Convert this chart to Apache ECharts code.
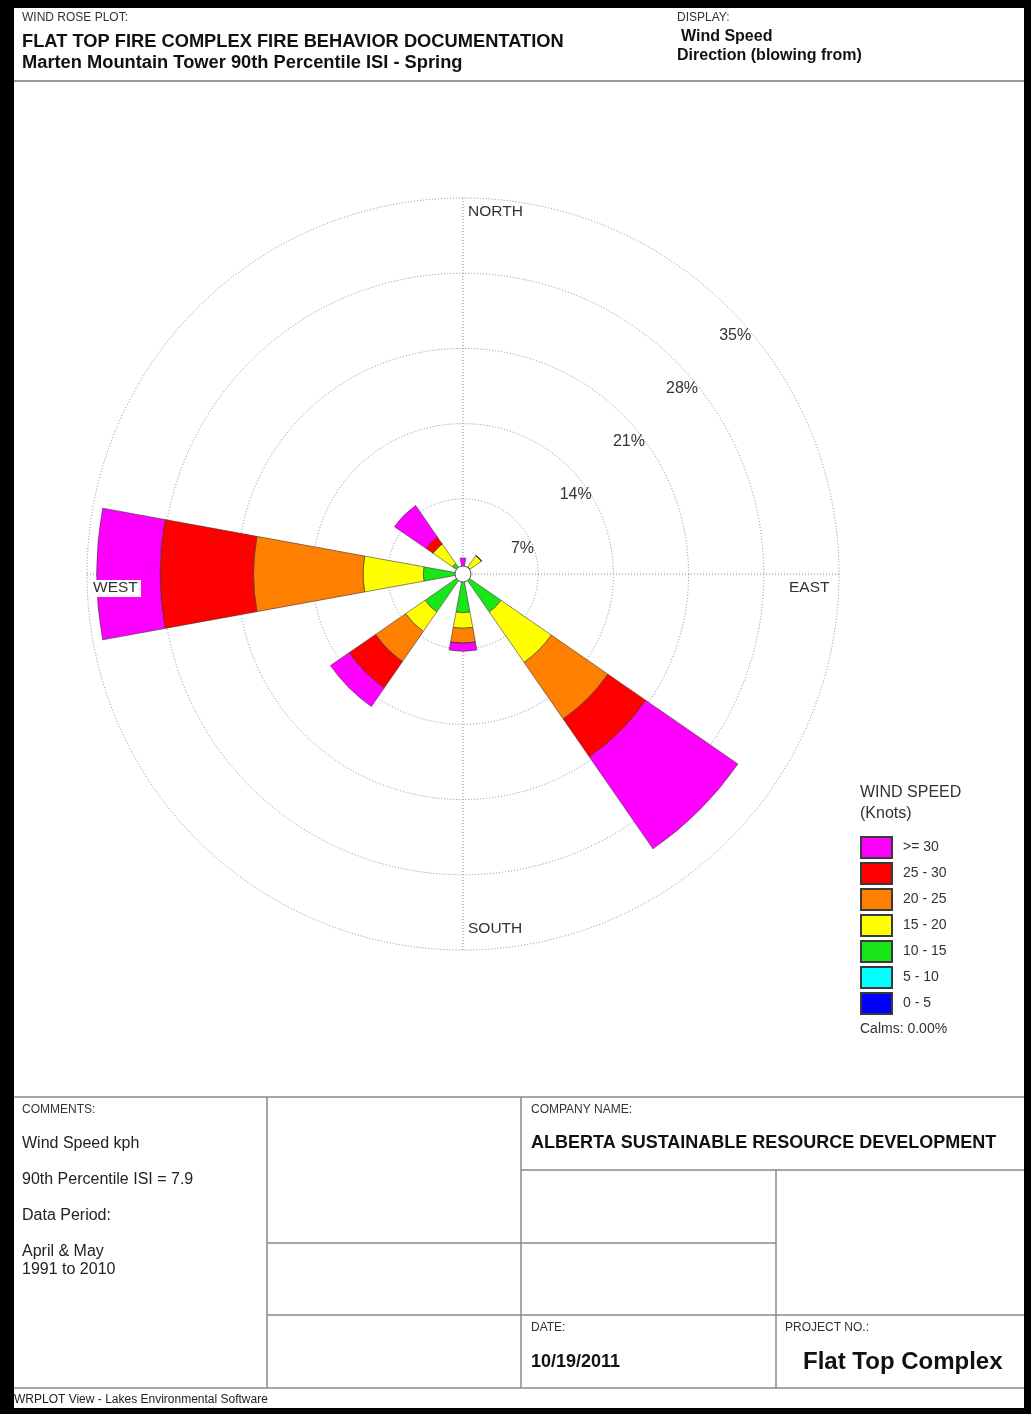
<!DOCTYPE html>
<html>
<head>
<meta charset="utf-8">
<title>Wind Rose - Marten Mountain Tower</title>
<script src="https://cdn.jsdelivr.net/npm/echarts@6/dist/echarts.min.js"></script>
<style>
  html, body { margin: 0; padding: 0; background: #fff; }
  #wrap { position: relative; width: 1031px; height: 1414px; }
  #chart { position: absolute; left: 0; top: 0; width: 1031px; height: 1414px; }
  #frame {
    position: absolute; left: 0; top: 0; width: 1031px; height: 1414px;
    box-sizing: border-box; border-style: solid; border-color: #000;
    border-width: 8px 7px 6px 14px; pointer-events: none;
  }
</style>
</head>
<body>
<div id="wrap">
  <div id="chart"></div>
  <div id="frame"></div>
</div>
<script>
// 16 compass sectors, clockwise from north
const directions = ['N', 'NNE', 'NE', 'ENE', 'E', 'ESE', 'SE', 'SSE',
                    'S', 'SSW', 'SW', 'WSW', 'W', 'WNW', 'NW', 'NNW'];

// wind speed classes (knots), innermost first
const speedClasses = ['0 - 5', '5 - 10', '10 - 15', '15 - 20', '20 - 25', '25 - 30', '>= 30'];
const classColors  = ['#0000ff', '#00ffff', '#19e619', '#ffff00', '#ff8000', '#ff0000', '#ff00ff'];

// frequency (%) per direction for each speed class
const freq0to5   = [0, 0, 0,   0, 0, 0, 0,    0, 0,    0, 0,   0, 0,    0, 0,    0];
const freq5to10  = [0, 0, 0,   0, 0, 0, 0,    0, 0,    0, 0,   0, 0,    0, 0,    0];
const freq10to15 = [0, 0, 0.8, 0, 0, 0, 4.3,  0, 3.6,  0, 4.3, 0, 3.7,  0, 1.2,  0];
const freq15to20 = [0, 0, 1.3, 0, 0, 0, 5.7,  0, 1.45, 0, 2.2, 0, 5.6,  0, 2.2,  0];
const freq20to25 = [0, 0, 0,   0, 0, 0, 6.4,  0, 1.4,  0, 3.4, 0, 10.2, 0, 0,    0];
const freq25to30 = [0, 0, 0,   0, 0, 0, 4.3,  0, 0,    0, 3.0, 0, 8.7,  0, 0.8,  0];
const freq30plus = [1.5, 0, 0, 0, 0, 0, 10.4, 0, 0.75, 0, 2.1, 0, 5.9,  0, 3.55, 0];
const classFreqs = [freq0to5, freq5to10, freq10to15, freq15to20, freq20to25, freq25to30, freq30plus];

// radial rings (percent)
const ringMax = 35;
const ringStep = 7;

const FONT = '"Liberation Sans", Arial, sans-serif';
const CX = 463, CY = 574, R = 376;
const GRID_COLOR = '#7f8ba2';

const chart = echarts.init(document.getElementById('chart'), null, { renderer: 'canvas' });

function txt(x, y, text, size, weight, color, extra) {
  return Object.assign({
    type: 'text', x: x, y: y, z: 50,
    style: {
      text: text, fill: color || '#222',
      font: (weight || 'normal') + ' ' + size + 'px ' + FONT,
      verticalAlign: 'middle', align: 'left'
    }
  }, extra || {});
}
function ln(x1, y1, x2, y2, color, w) {
  return { type: 'line', z: 50, shape: { x1: x1, y1: y1, x2: x2, y2: y2 },
           style: { stroke: color || '#8a8a8a', lineWidth: w || 1.5 } };
}

const series = speedClasses.map((name, i) => ({
  name: name,
  type: 'bar',
  coordinateSystem: 'polar',
  polarIndex: 0,
  stack: 'rose',
  barCategoryGap: '8%',
  data: classFreqs[i],
  itemStyle: { color: classColors[i], borderColor: '#3a3a3a', borderWidth: 0.6 },
  emphasis: { disabled: true },
  silent: true,
  z: 5
}));

const option = {
  backgroundColor: '#ffffff',
  animation: false,
  textStyle: { fontFamily: FONT },
  polar: [
    { center: [CX, CY], radius: R },
    { center: [CX, CY], radius: R },
    { center: [CX, CY], radius: R }
  ],
  angleAxis: [
    { polarIndex: 0, type: 'category', data: directions, startAngle: 90 + 360 / 32,
      clockwise: true, axisLine: { show: false }, axisTick: { show: false },
      axisLabel: { show: false }, splitLine: { show: false } },
    { polarIndex: 1, type: 'value', min: 0, max: 360, interval: 90, startAngle: 90,
      axisLine: { show: false }, axisTick: { show: false }, axisLabel: { show: false },
      splitLine: { show: true, lineStyle: { color: GRID_COLOR, width: 1, type: [1, 2] } } },
    { polarIndex: 2, type: 'value', min: 0, max: 360, startAngle: 45,
      axisLine: { show: false }, axisTick: { show: false }, axisLabel: { show: false },
      splitLine: { show: false } }
  ],
  radiusAxis: [
    { polarIndex: 0, type: 'value', min: 0, max: ringMax, interval: ringStep,
      axisLine: { show: false }, axisTick: { show: false }, axisLabel: { show: false },
      splitLine: { show: true, lineStyle: { color: GRID_COLOR, width: 1, type: [1, 2] } } },
    { polarIndex: 1, type: 'value', min: 0, max: ringMax, interval: ringStep,
      axisLine: { show: false }, axisTick: { show: false }, axisLabel: { show: false },
      splitLine: { show: false } },
    { polarIndex: 2, type: 'value', min: 0, max: ringMax, interval: ringStep,
      axisLine: { show: false }, axisTick: { show: false }, splitLine: { show: false },
      axisLabel: {
        show: true, margin: -9, rotate: 0, align: 'center', verticalAlign: 'top',
        padding: [13, 0, 0, 0],
        fontSize: 16, color: '#333', fontFamily: FONT,
        formatter: v => (v === 0 ? '' : v + '%')
      } }
  ],
  legend: {
    orient: 'vertical', left: 860, top: 836,
    itemWidth: 31, itemHeight: 21, itemGap: 3, padding: 0,
    selectedMode: false,
    icon: 'rect',
    data: speedClasses.slice().reverse(),
    textStyle: { fontSize: 14, color: '#333', fontFamily: FONT, padding: [0, 0, 0, 6] }
  },
  series: series,
  graphic: { elements: [
    // header
    txt(22, 18, 'WIND ROSE PLOT:', 12, 'normal', '#333'),
    txt(22, 42, 'FLAT TOP FIRE COMPLEX FIRE BEHAVIOR DOCUMENTATION', 18.3, 'bold', '#111'),
    txt(22, 63, 'Marten Mountain Tower 90th Percentile ISI - Spring', 18.3, 'bold', '#111'),
    txt(677, 18, 'DISPLAY:', 12, 'normal', '#333'),
    txt(681, 37, 'Wind Speed', 16, 'bold', '#111'),
    txt(677, 56, 'Direction (blowing from)', 16, 'bold', '#111'),
    ln(14, 81, 1025, 81, '#9a9a9a', 2),

    // compass labels
    txt(468, 212, 'NORTH', 15.5, 'normal', '#333'),
    txt(789, 588, 'EAST', 15.5, 'normal', '#333'),
    txt(468, 929, 'SOUTH', 15.5, 'normal', '#333'),
    txt(93, 588, 'WEST', 15.5, 'normal', '#333', { z: 120 }),
    { type: 'rect', z: 110, shape: { x: 92, y: 580, width: 49, height: 17 },
      style: { fill: '#ffffff' } },

    // calm circle
    { type: 'circle', z: 100, shape: { cx: CX, cy: CY, r: 8 },
      style: { fill: '#ffffff', stroke: '#555', lineWidth: 1 } },

    // legend heading and calms
    txt(860, 793, 'WIND SPEED', 16, 'normal', '#333'),
    txt(860, 814, '(Knots)', 16, 'normal', '#333'),
    txt(860, 1029, 'Calms: 0.00%', 14, 'normal', '#333'),

    // footer table
    ln(14, 1097, 1025, 1097),
    ln(14, 1388, 1025, 1388),
    ln(267, 1097, 267, 1388),
    ln(521, 1097, 521, 1388),
    ln(521, 1170, 1025, 1170),
    ln(776, 1170, 776, 1388),
    ln(267, 1243, 776, 1243),
    ln(267, 1315, 1025, 1315),

    txt(22, 1110, 'COMMENTS:', 12, 'normal', '#333'),
    txt(22, 1144, 'Wind Speed kph', 16, 'normal', '#222'),
    txt(22, 1180, '90th Percentile ISI = 7.9', 16, 'normal', '#222'),
    txt(22, 1216, 'Data Period:', 16, 'normal', '#222'),
    txt(22, 1252, 'April & May', 16, 'normal', '#222'),
    txt(22, 1270, '1991 to 2010', 16, 'normal', '#222'),

    txt(531, 1110, 'COMPANY NAME:', 12, 'normal', '#333'),
    txt(531, 1143, 'ALBERTA SUSTAINABLE RESOURCE DEVELOPMENT', 18, 'bold', '#111'),
    txt(531, 1328, 'DATE:', 12, 'normal', '#333'),
    txt(531, 1362, '10/19/2011', 18, 'bold', '#111'),
    txt(785, 1328, 'PROJECT NO.:', 12, 'normal', '#333'),
    txt(803, 1362, 'Flat Top Complex', 24, 'bold', '#111'),

    txt(14, 1400, 'WRPLOT View - Lakes Environmental Software', 12, 'normal', '#222')
  ] }
};

chart.setOption(option);
</script>
</body>
</html>
